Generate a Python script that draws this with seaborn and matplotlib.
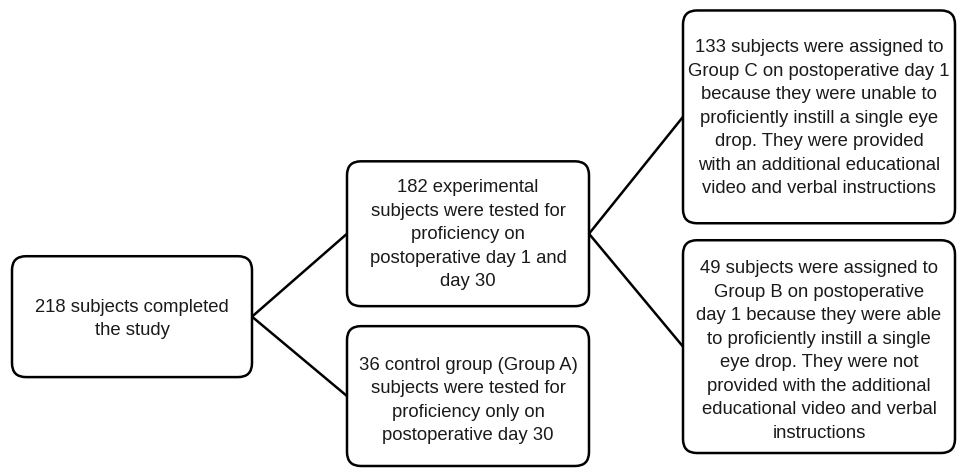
import matplotlib
matplotlib.use('Agg')
import matplotlib.pyplot as plt
from matplotlib.patches import FancyBboxPatch
import pandas as pd
import seaborn as sns

# box texts (line breaks as in the original figure)
box_names = ['start', 'exp', 'ctrl', 'grpC', 'grpB']
box_texts = [
    '218 subjects completed\nthe study',
    '182 experimental\nsubjects were tested for\nproficiency on\npostoperative day 1 and\nday 30',
    '36 control group (Group A)\nsubjects were tested for\nproficiency only on\npostoperative day 30',
    '133 subjects were assigned to\nGroup C on postoperative day 1\nbecause they were unable to\nproficiently instill a single eye\ndrop. They were provided\nwith an additional educational\nvideo and verbal instructions',
    '49 subjects were assigned to\nGroup B on postoperative\nday 1 because they were able\nto proficiently instill a single\neye drop. They were not\nprovided with the additional\neducational video and verbal\ninstructions',
]
# links between boxes (from, to)
links = [('start', 'exp'), ('start', 'ctrl'), ('exp', 'grpC'), ('exp', 'grpB')]

# layout in pixels: left, top, right, bottom
box_x0 = [12, 347, 347, 683, 683]
box_y0 = [256, 161, 326, 10, 240]
box_x1 = [252, 589, 589, 955, 955]
box_y1 = [377, 306, 466, 223, 453]
# vertical offset of the text block centre inside each box
text_dy = [2.5, 1, 4.5, 1.5, 4.5]

sns.set_theme(style='white')
plt.rcParams['font.family'] = ['Liberation Sans', 'DejaVu Sans']

fig = plt.figure(figsize=(9.58, 4.70), dpi=100)
ax = fig.add_axes([0, 0, 1, 0.999])
ax.set_xlim(0, 958)
ax.set_ylim(470, 0)
ax.axis('off')

boxes = pd.DataFrame({'x0': box_x0, 'y0': box_y0, 'x1': box_x1, 'y1': box_y1,
                      'text': box_texts, 'dy': text_dy}, index=box_names)

# connector lines: right edge middle of source -> left edge of target
for src, dst in links:
    s = boxes.loc[src]
    d = boxes.loc[dst]
    seg = pd.DataFrame({'x': [s.x1, d.x0],
                        'y': [(s.y0 + s.y1) / 2, (d.y0 + d.y1) / 2]})
    sns.lineplot(data=seg, x='x', y='y', ax=ax, color='black', lw=1.8,
                 sort=False, zorder=1)

r = 14
for name, b in boxes.iterrows():
    patch = FancyBboxPatch((b.x0 + r, b.y0 + r), b.x1 - b.x0 - 2 * r, b.y1 - b.y0 - 2 * r,
                           boxstyle='round,pad=%d,rounding_size=%d' % (r, r),
                           fc='white', ec='black', lw=1.8, zorder=2)
    ax.add_patch(patch)
    ax.text((b.x0 + b.x1) / 2, (b.y0 + b.y1) / 2 + b.dy, b.text,
            ha='center', va='center', fontsize=13.3, linespacing=1.5,
            color='#1a1a1a', zorder=3)

fig.savefig('out.png', dpi=100)
